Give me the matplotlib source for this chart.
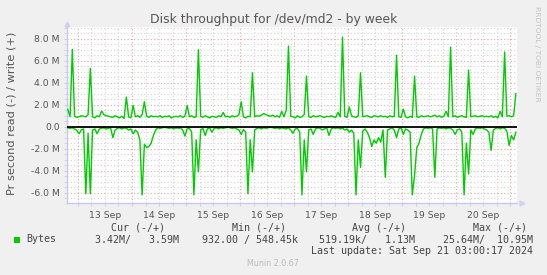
import matplotlib
matplotlib.use("Agg")
import matplotlib.pyplot as plt
import matplotlib.dates as mdates
from matplotlib.patches import Rectangle
from matplotlib.ticker import MultipleLocator
import numpy as np
import pandas as pd

# hourly samples, values in MB/s (read is drawn negative)
times = pd.date_range("2024-09-12 19:30", periods=200, freq="h")

write_mb = [
    1.57, 0.9, 7.03, 0.95, 0.85, 0.9, 1.0, 0.95, 0.9, 1.1, 5.3, 0.9, 0.8, 1.0, 0.9, 1.43, 1.1, 1.0, 0.95, 0.9,
    0.85, 1.0, 0.9, 0.8, 0.95, 0.75, 2.7, 0.9, 0.8, 1.94, 0.9, 1.0, 0.85, 1.1, 2.27, 0.95, 0.85, 1.0, 0.9, 0.95,
    0.9, 1.0, 0.85, 0.95, 0.9, 1.0, 0.8, 0.9, 0.95, 0.9, 1.0, 0.85, 0.95, 1.94, 0.9, 1.0, 0.85, 0.9, 7.0, 0.95,
    0.85, 1.0, 0.9, 0.8, 0.95, 0.9, 0.85, 1.0, 0.9, 1.3, 0.9, 0.95, 0.85, 1.0, 0.9, 0.95, 1.1, 2.27, 0.9, 0.8,
    0.95, 0.9, 4.9, 0.9, 1.0, 0.95, 1.05, 1.2, 1.1, 1.0, 0.95, 1.05, 0.9, 1.0, 0.85, 1.4, 0.9, 1.5, 7.33, 0.95,
    0.9, 0.8, 1.0, 0.85, 0.9, 1.1, 4.6, 0.9, 0.85, 1.0, 0.9, 0.95, 1.0, 0.9, 0.85, 0.95, 0.9, 1.0, 0.9, 0.85,
    1.3, 0.9, 8.15, 0.95, 0.85, 1.8, 1.0, 0.9, 0.85, 1.0, 4.9, 0.9, 0.95, 1.0, 0.9, 0.85, 1.0, 0.95, 0.9, 1.0,
    0.9, 0.95, 0.85, 1.0, 0.9, 0.95, 6.5, 0.9, 0.85, 1.6, 0.9, 0.8, 0.95, 0.85, 4.6, 0.9, 0.85, 1.0, 0.9, 0.95,
    1.0, 0.9, 0.95, 1.05, 0.9, 1.0, 0.85, 0.95, 1.4, 0.9, 7.24, 0.9, 1.0, 0.85, 0.95, 1.0, 0.9, 0.85, 5.15, 0.9,
    0.95, 1.0, 0.9, 0.95, 1.0, 0.9, 0.95, 0.9, 1.0, 0.85, 0.95, 0.8, 1.4, 0.9, 6.8, 0.95, 1.0, 0.9, 1.0, 3.0,
]

read_mb = [
    -0.1, -0.15, -0.1, -0.2, -0.35, -0.64, -0.3, -0.2, -6.1, -0.6, -6.1, -0.3, -0.2, -0.64, -0.2, -0.15, -0.1, -0.2, -0.15, -0.1,
    -1.0, -0.3, -0.15, -0.1, -0.2, -0.1, -0.15, -0.3, -0.2, -0.64, -0.3, -0.5, -1.2, -6.2, -1.6, -1.9, -1.8, -1.5, -0.8, -0.3,
    -0.1, -0.15, -0.1, -0.05, -0.1, -0.15, -0.1, -0.2, -0.1, -0.15, -0.1, -0.3, -0.85, -0.2, -0.15, -0.5, -6.2, -1.2, -4.1, -0.3,
    -0.15, -0.8, -0.2, -0.1, -0.5, -0.15, -0.1, -0.2, -0.1, -0.15, -0.1, -0.05, -0.1, -0.15, -0.1, -0.2, -0.3, -0.7, -0.25, -0.5,
    -6.1, -1.2, -4.1, -0.3, -0.15, -0.1, -0.2, -0.1, -0.15, -0.1, -0.05, -0.1, -0.15, -0.1, -0.2, -0.1, -0.15, -0.2, -0.1, -0.3,
    -0.6, -0.2, -0.15, -0.5, -6.2, -1.2, -4.1, -0.3, -0.2, -0.7, -0.2, -0.1, -0.15, -0.3, -0.2, -0.1, -0.8, -0.2, -0.1, -0.15,
    -0.1, -0.2, -0.1, -0.3, -0.2, -0.5, -0.3, -0.6, -6.2, -1.2, -3.7, -0.4, -0.2, -0.5, -1.0, -1.8, -1.2, -1.5, -1.0, -1.4,
    -0.3, -4.6, -0.3, -0.2, -0.1, -0.3, -1.0, -0.2, -0.1, -0.7, -0.2, -0.3, -0.5, -6.2, -4.4, -1.9, -1.5, -0.7, -0.2, -0.1,
    -0.15, -0.1, -0.2, -4.6, -0.2, -0.1, -0.15, -0.1, -0.2, -0.1, -0.15, -0.3, -0.7, -0.3, -0.2, -0.5, -6.2, -1.5, -4.3, -0.3,
    -0.7, -0.2, -0.1, -0.15, -0.1, -0.2, -0.3, -0.5, -2.15, -0.3, -0.15, -0.1, -0.2, -0.1, -0.15, -0.4, -1.7, -0.8, -1.2, -0.5,
]

day_labels = ["13 Sep", "14 Sep", "15 Sep", "16 Sep", "17 Sep", "18 Sep", "19 Sep", "20 Sep"]
label_times = pd.date_range("2024-09-13 12:00", periods=8, freq="D")

legend_head = ["Cur (-/+)", "Min (-/+)", "Avg (-/+)", "Max (-/+)"]
legend_vals = ["3.42M/   3.59M", "932.00 / 548.45k", "519.19k/   1.13M", "25.64M/  10.95M"]

W, H = 547, 275
fig = plt.figure(figsize=(W / 100, H / 100), dpi=100, facecolor="#F0F0F0")

def px(x, y):
    # pixel position (from top-left) -> figure fraction
    return x / W, 1 - y / H

l, t = px(66.7, 27.4)
r, b = px(517, 202.7)
ax = fig.add_axes([l, b, r - l, t - b], facecolor="white")

x = mdates.date2num(times)
ax.plot(x, write_mb, color="#00CC00", lw=1.0, zorder=3)
ax.plot(x, read_mb, color="#00CC00", lw=1.0, zorder=3)
ax.axhline(0, color="black", lw=1.3, zorder=4)

ax.set_xlim(mdates.date2num(pd.Timestamp("2024-09-12 19:00")),
            mdates.date2num(pd.Timestamp("2024-09-21 03:00")))
ax.set_ylim(-6.91, 9.03)

# grid: days red, 6h grey; 2M red, 0.5M grey
ax.xaxis.set_major_locator(mdates.DayLocator())
ax.xaxis.set_minor_locator(mdates.HourLocator(byhour=[0, 6, 12, 18]))
ax.yaxis.set_major_locator(MultipleLocator(2))
ax.yaxis.set_minor_locator(MultipleLocator(0.5))
ax.grid(True, which="major", color="#F0A8A8", lw=0.8, ls=(0, (1, 2)), zorder=1)
ax.grid(True, which="minor", color="#D4D4D4", lw=0.8, ls=(0, (1, 2)), zorder=0)
ax.set_xticklabels([])
ax.tick_params(axis="x", which="both", length=2, color="#D0D0D0")
ax.tick_params(axis="y", which="both", length=2, color="#D0D0D0", labelsize=6.7,
               labelcolor="#555555", pad=3)

yt = np.arange(-6, 9, 2)
ax.set_yticks(yt)
ax.set_yticklabels(["0.0" if v == 0 else f"{v:.1f} M" for v in yt])

for sp in ["top", "right"]:
    ax.spines[sp].set_visible(False)
for sp in ["left", "bottom"]:
    ax.spines[sp].set_color("#C8C8F4")
    ax.spines[sp].set_linewidth(1.0)

# axis arrows
ax.plot([0], [1.02], marker="^", ms=3.5, color="#D0D0F6", transform=ax.transAxes, clip_on=False)
ax.plot([1.01], [0], marker=">", ms=3.5, color="#D0D0F6", transform=ax.transAxes, clip_on=False)

for lt, lab in zip(label_times, day_labels):
    ax.text(mdates.date2num(lt), -0.045, lab, transform=ax.get_xaxis_transform(),
            ha="center", va="top", fontsize=6.7, color="#555555")

fig.text(*px(273.5, 19.5), "Disk throughput for /dev/md2 - by week", ha="center", va="center",
         fontsize=8.9, color="#555555")
fig.text(*px(12, 113.5), "Pr second read (-) / write (+)", rotation=90, ha="center", va="center",
         fontsize=8.2, color="#555555")
fig.text(*px(537, 54), "RRDTOOL / TOBI OETIKER", rotation=270, ha="center", va="center",
         fontsize=5.4, color="#C4C4C4")

mono = dict(family="DejaVu Sans Mono", fontsize=7.2, color="#444444", va="center")
for xh, txt in zip([110.7, 232.3, 351.7, 473.3], legend_head):
    fig.text(*px(xh, 228), txt, ha="left", **mono)
for xr, txt in zip([179.3, 298.3, 415, 533.3], legend_vals):
    fig.text(*px(xr, 239.5), txt, ha="right", **mono)
fig.text(*px(26.7, 239.5), "Bytes", ha="left", **mono)
fig.text(*px(533.3, 251), "Last update: Sat Sep 21 03:00:17 2024", ha="right", **mono)
fig.patches.append(Rectangle(px(14, 243), 6 / W, 6 / H, transform=fig.transFigure,
                             facecolor="#00CC00", edgecolor="none"))
fig.text(*px(273, 264), "Munin 2.0.67", ha="center", va="center", fontsize=5.8, color="#BBBBBB")

fig.savefig("out.png", dpi=100, facecolor=fig.get_facecolor())
